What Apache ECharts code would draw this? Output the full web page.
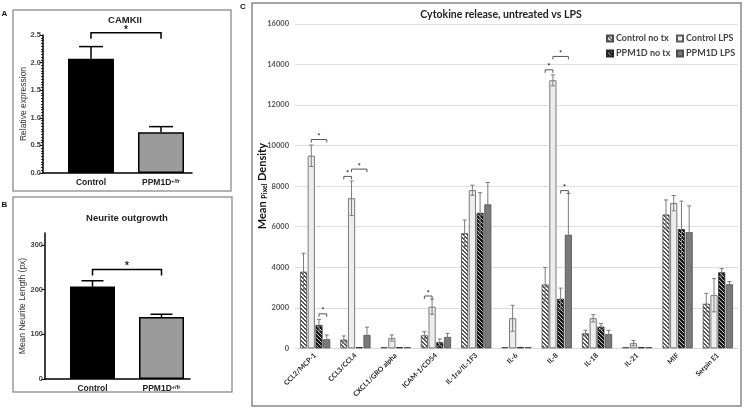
<!DOCTYPE html>
<html><head><meta charset="utf-8">
<script src="https://cdn.jsdelivr.net/npm/echarts@6/dist/echarts.min.js"></script>
<style>html,body{margin:0;padding:0;background:#fff}#c{width:744px;height:408px}</style>
</head><body><div id="c"></div>
<script>
// ---------- Panel A: CAMKII ----------
const camkCats = ['Control', 'PPM1D+/fr'];
const camkMean = [2.07, 0.74];
const camkErr = [0.22, 0.10];
const camkSig = [[0, 1, 2.54]];
// ---------- Panel B: Neurite outgrowth ----------
const neuriteCats = ['Control', 'PPM1D+/fr'];
const neuriteMean = [207, 139];
const neuriteErr = [13, 6];
const neuriteSig = [[0, 1, 245]];
const neuriteTicks = [0, 100, 200, 300];
// ---------- Panel C: Cytokine release ----------
const cytoCats = ['CCL2/MCP-1', 'CCL3/CCL4', 'CXCL1/GRO alpha', 'ICAM-1/CD54', 'IL-1ra/IL-1F3', 'IL-6', 'IL-8', 'IL-18', 'IL-21', 'MIF', 'Serpin E1'];
const ctrlNoTx    = [3780, 430, 60, 640, 5680, 60, 3150, 740, 60, 6600, 2200];
const ctrlNoTxErr = [910, 180, 0, 180, 650, 0, 830, 150, 0, 720, 510];
const ctrlLps     = [9500, 7400, 510, 2050, 7800, 1480, 13220, 1480, 250, 7160, 2620];
const ctrlLpsErr  = [530, 850, 150, 370, 250, 640, 270, 180, 130, 380, 820];
const ppmNoTx     = [1150, 60, 60, 300, 6680, 60, 2440, 1070, 60, 5880, 3750];
const ppmNoTxErr  = [280, 0, 0, 160, 1000, 0, 530, 150, 0, 1380, 180];
const ppmLps      = [450, 660, 60, 560, 7100, 60, 5600, 700, 60, 5730, 3160];
const ppmLpsErr   = [210, 380, 0, 180, 1080, 0, 2040, 190, 0, 1300, 130];
// significance: [category index, from bar, to bar, bracket height]
const cytoSig = [[0, 1, 3, 10300], [0, 2, 3, 1700], [1, 0, 1, 8480], [1, 1, 3, 8840], [3, 0, 1, 2580], [6, 0, 1, 13740], [6, 1, 3, 14400], [6, 2, 3, 7780]];

const FAB = '"Liberation Sans", Arial, sans-serif';
const FC = 'Lato, "Open Sans", sans-serif';

function hatch(bg, fg, dark) {
  const n = 4, cv = document.createElement('canvas');
  cv.width = n; cv.height = n;
  const ctx = cv.getContext('2d');
  ctx.fillStyle = bg; ctx.fillRect(0, 0, n, n);
  ctx.fillStyle = fg;
  for (let y = 0; y < n; y++) for (let x = 0; x < n; x++) {
    if ((((x - y) % n) + n) % n < dark) ctx.fillRect(x, y, 1, 1);
  }
  return cv;
}
const patCtrl = { image: hatch('#ffffff', '#555555', 2), repeat: 'repeat' };
const patPpm = { image: hatch('#c8c8c8', '#1a1a1a', 3), repeat: 'repeat' };

const cytoGroups = [
  { name: 'Control no tx', mean: ctrlNoTx, err: ctrlNoTxErr },
  { name: 'Control LPS', mean: ctrlLps, err: ctrlLpsErr },
  { name: 'PPM1D no tx', mean: ppmNoTx, err: ppmNoTxErr },
  { name: 'PPM1D LPS', mean: ppmLps, err: ppmLpsErr }
];
const cytoStyles = [
  { color: patCtrl, borderColor: '#4d4d4d', borderWidth: 0.8 },
  { color: '#ededed', borderColor: '#5a5a5a', borderWidth: 0.8 },
  { color: patPpm, borderColor: '#262626', borderWidth: 0.8 },
  { color: '#7a7a7a', borderColor: '#4d4d4d', borderWidth: 0.8 }
];
const CAT_GAP = 0.25, BAR_GAP = 0.1, NB = 4;
function barX(api, i, s) {
  const band = api.size([1, 0])[0];
  const w = band * (1 - CAT_GAP) / (NB + (NB - 1) * BAR_GAP);
  const c = api.coord([i, 0])[0];
  return c - band * (1 - CAT_GAP) / 2 + w / 2 + s * w * (1 + BAR_GAP);
}

const cytoErrData = [];
cytoGroups.forEach((g, s) => g.mean.forEach((m, i) => { if (g.err[i] > 0) cytoErrData.push([i, s, m, g.err[i]]); }));

function abLabel(v) {
  const p = v.indexOf('+');
  return p < 0 ? '{b|' + v + '}' : '{b|' + v.slice(0, p) + '}{s|' + v.slice(p) + '}';
}
const abRich = {
  b: { fontSize: 8.5, fontWeight: 'bold', fontFamily: FAB, color: '#222', lineHeight: 10 },
  s: { fontSize: 5.5, fontWeight: 'bold', fontFamily: FAB, color: '#222', verticalAlign: 'top', lineHeight: 10 }
};

function abErrSeries(x, y, data, cap) {
  return {
    type: 'custom', xAxisIndex: x, yAxisIndex: y, z: 5, clip: false,
    data: data,
    renderItem: (p, api) => {
      const i = api.value(0), m = api.value(1), e = api.value(2);
      const b = api.coord([i, m]), t = api.coord([i, m + e]);
      const st = { stroke: '#000', lineWidth: 1.5 };
      return { type: 'group', children: [
        { type: 'line', shape: { x1: b[0], y1: b[1], x2: t[0], y2: t[1] }, style: st },
        { type: 'line', shape: { x1: t[0] - cap / 2, y1: t[1], x2: t[0] + cap / 2, y2: t[1] }, style: st }
      ] };
    }
  };
}
function abSigSeries(x, y, data) {
  return {
    type: 'custom', xAxisIndex: x, yAxisIndex: y, z: 5, clip: false,
    data: data,
    renderItem: (p, api) => {
      const a = api.coord([api.value(0), api.value(2)]), b = api.coord([api.value(1), api.value(2)]);
      const yy = a[1];
      return { type: 'group', children: [
        { type: 'polyline', shape: { points: [[a[0], yy + 6], [a[0], yy], [b[0], yy], [b[0], yy + 6]] }, style: { stroke: '#000', lineWidth: 1.5, fill: null } },
        { type: 'text', style: { text: '*', x: (a[0] + b[0]) / 2, y: yy + 2, align: 'center', textAlign: 'center', verticalAlign: 'bottom', textVerticalAlign: 'bottom', font: 'bold 10px ' + FAB, fill: '#222' } }
      ] };
    }
  };
}

const abAxisY = (gi, max, interval, name, gap, extra) => Object.assign({
  gridIndex: gi, type: 'value', min: 0, max: max, interval: interval,
  name: name, nameLocation: 'middle', nameGap: gap, nameRotate: 90, nameMoveOverlap: false,
  nameTextStyle: { fontSize: 8.5, fontFamily: FAB, color: '#333' },
  axisLine: { show: true, lineStyle: { color: '#000', width: 1.5 } },
  axisTick: { show: true, length: 3.5, lineStyle: { color: '#000', width: 1 } },
  axisLabel: { fontSize: 7.5, fontWeight: 'bold', fontFamily: FAB, color: '#444', margin: 2 },
  splitLine: { show: false }
}, extra || {});

const option = {
  animation: false,
  graphic: [
    { type: 'rect', shape: { x: 13, y: 10, width: 218, height: 181 }, style: { fill: 'none', stroke: '#9a9a9a', lineWidth: 1.5 } },
    { type: 'rect', shape: { x: 13, y: 197, width: 219, height: 195 }, style: { fill: 'none', stroke: '#9a9a9a', lineWidth: 1.5 } },
    { type: 'rect', shape: { x: 252, y: 3, width: 489, height: 403 }, style: { fill: 'none', stroke: '#888', lineWidth: 1.5 } },
    { type: 'text', x: 4.5, y: 14, style: { text: 'A', font: 'bold 8px ' + FAB, fill: '#111', align: 'center', verticalAlign: 'middle', textAlign: 'center', textVerticalAlign: 'middle' } },
    { type: 'text', x: 4.5, y: 205, style: { text: 'B', font: 'bold 8px ' + FAB, fill: '#111', align: 'center', verticalAlign: 'middle', textAlign: 'center', textVerticalAlign: 'middle' } },
    { type: 'text', x: 243, y: 7, style: { text: 'C', font: 'bold 8px ' + FAB, fill: '#111', align: 'center', verticalAlign: 'middle', textAlign: 'center', textVerticalAlign: 'middle' } },
    { type: 'text', x: 125, y: 20, style: { text: 'CAMKII', font: 'bold 9.5px ' + FAB, fill: '#222', align: 'center', verticalAlign: 'middle', textAlign: 'center', textVerticalAlign: 'middle' } },
    { type: 'text', x: 127, y: 218, style: { text: 'Neurite outgrowth', font: 'bold 9.5px ' + FAB, fill: '#222', align: 'center', verticalAlign: 'middle', textAlign: 'center', textVerticalAlign: 'middle' } },
    { type: 'text', x: 501, y: 15, style: { text: 'Cytokine release, untreated vs LPS', font: 'bold 10.5px ' + FC, fill: '#222', align: 'center', verticalAlign: 'middle', textAlign: 'center', textVerticalAlign: 'middle' } }
  ],
  grid: [
    { left: 43, top: 35, width: 149, height: 138 },
    { left: 56, top: 35, width: 140, height: 138 },
    { left: 45, top: 233, width: 145, height: 146 },
    { left: 58, top: 233, width: 138, height: 146 },
    { left: 295, top: 24, right: 6, bottom: 59.7 }
  ],
  xAxis: [
    { gridIndex: 0, type: 'value', min: 0, max: 1, axisLine: { show: true, onZero: false, lineStyle: { color: '#000', width: 1.5 } }, axisTick: { show: false }, axisLabel: { show: false }, splitLine: { show: false } },
    { gridIndex: 1, type: 'category', data: camkCats, axisLine: { show: false }, axisTick: { show: false }, axisLabel: { interval: 0, formatter: abLabel, rich: abRich, margin: 5 } },
    { gridIndex: 2, type: 'value', min: 0, max: 1, axisLine: { show: true, onZero: false, lineStyle: { color: '#000', width: 1.5 } }, axisTick: { show: false }, axisLabel: { show: false }, splitLine: { show: false } },
    { gridIndex: 3, type: 'category', data: neuriteCats, axisLine: { show: false }, axisTick: { show: false }, axisLabel: { interval: 0, formatter: abLabel, rich: abRich, margin: 5 } },
    { gridIndex: 4, type: 'category', data: cytoCats, axisLine: { show: true, lineStyle: { color: '#d9d9d9' } }, axisTick: { show: false },
      axisLabel: { interval: 0, rotate: 45, fontSize: 7, fontWeight: 'bold', fontFamily: FC, color: '#222', margin: 6 } }
  ],
  yAxis: [
    abAxisY(0, 2.5, 0.5, 'Relative expression', 15, {
      minorTick: { show: true, splitNumber: 10, length: 2, lineStyle: { color: '#000', width: 0.8 } },
      axisLabel: { fontSize: 7.5, fontWeight: 'bold', fontFamily: FAB, color: '#444', margin: 2, formatter: v => v.toFixed(1) }
    }),
    { gridIndex: 1, type: 'value', min: 0, max: 2.5, show: false },
    abAxisY(2, 327, 100, 'Mean Neurite Length (px)', 18, {
      axisTick: { show: true, length: 3.5, lineStyle: { color: '#000', width: 1 }, customValues: neuriteTicks },
      axisLabel: { fontSize: 7.5, fontWeight: 'bold', fontFamily: FAB, color: '#444', margin: 2, customValues: neuriteTicks }
    }),
    { gridIndex: 3, type: 'value', min: 0, max: 327, show: false },
    { gridIndex: 4, type: 'value', min: 0, max: 16000, interval: 2000,
      name: '{m|Mean }{p|Pixel}{m| Density}', nameLocation: 'middle', nameGap: 27, nameRotate: 90, nameMoveOverlap: false,
      nameTextStyle: { rich: {
        m: { fontSize: 11, fontWeight: 'bold', fontFamily: FC, color: '#111', verticalAlign: 'bottom' },
        p: { fontSize: 7, fontWeight: 'bold', fontFamily: FC, color: '#111', verticalAlign: 'bottom' } } },
      axisLine: { show: false }, axisTick: { show: false },
      axisLabel: { fontSize: 7.5, fontWeight: 'bold', fontFamily: FC, color: '#555', margin: 6, formatter: v => String(v) },
      splitLine: { lineStyle: { color: '#dedede', width: 1 } } }
  ],
  legend: [
    { left: 601, top: 29, orient: 'vertical', itemGap: 6, itemWidth: 6, itemHeight: 6, icon: 'rect',
      data: ['Control no tx', 'PPM1D no tx'], textStyle: { fontSize: 9, fontWeight: 'bold', fontFamily: FC, color: '#444', padding: [0, 0, 0, -2] } },
    { left: 671, top: 29, orient: 'vertical', itemGap: 6, itemWidth: 6, itemHeight: 6, icon: 'rect',
      data: ['Control LPS', 'PPM1D LPS'], textStyle: { fontSize: 9, fontWeight: 'bold', fontFamily: FC, color: '#444', padding: [0, 0, 0, -2] } }
  ],
  series: [
    { type: 'bar', xAxisIndex: 1, yAxisIndex: 1, barWidth: 46,
      data: camkMean.map((v, i) => ({ value: v, itemStyle: { color: i === 0 ? '#000' : '#9b9b9b', borderColor: '#000', borderWidth: 1.5 } })) },
    abErrSeries(1, 1, camkMean.map((m, i) => [i, m, camkErr[i]]), 24),
    abSigSeries(1, 1, camkSig),
    { type: 'bar', xAxisIndex: 3, yAxisIndex: 3, barWidth: 45,
      data: neuriteMean.map((v, i) => ({ value: v, itemStyle: { color: i === 0 ? '#000' : '#9b9b9b', borderColor: '#000', borderWidth: 1.5 } })) },
    abErrSeries(3, 3, neuriteMean.map((m, i) => [i, m, neuriteErr[i]]), 22),
    abSigSeries(3, 3, neuriteSig),
    ...cytoGroups.map((g, s) => ({
      type: 'bar', name: g.name, xAxisIndex: 4, yAxisIndex: 4, data: g.mean,
      barCategoryGap: (CAT_GAP * 100) + '%', barGap: (BAR_GAP * 100) + '%',
      itemStyle: cytoStyles[s]
    })),
    { type: 'custom', xAxisIndex: 4, yAxisIndex: 4, z: 5, data: cytoErrData,
      renderItem: (p, api) => {
        const i = api.value(0), s = api.value(1), m = api.value(2), e = api.value(3);
        const x = barX(api, i, s);
        const t = api.coord([i, m + e])[1], b = api.coord([i, Math.max(m - e, 0)])[1];
        const st = { stroke: '#7a7a7a', lineWidth: 1 };
        return { type: 'group', children: [
          { type: 'line', shape: { x1: x, y1: t, x2: x, y2: b }, style: st },
          { type: 'line', shape: { x1: x - 2, y1: t, x2: x + 2, y2: t }, style: st },
          { type: 'line', shape: { x1: x - 2, y1: b, x2: x + 2, y2: b }, style: st }
        ] };
      } },
    { type: 'custom', xAxisIndex: 4, yAxisIndex: 4, z: 5, clip: false, data: cytoSig,
      renderItem: (p, api) => {
        const i = api.value(0);
        const xa = barX(api, i, api.value(1)), xb = barX(api, i, api.value(2));
        const y = api.coord([i, api.value(3)])[1];
        return { type: 'group', children: [
          { type: 'polyline', shape: { points: [[xa, y + 3], [xa, y], [xb, y], [xb, y + 3]] }, style: { stroke: '#555', lineWidth: 1, fill: null } },
          { type: 'text', style: { text: '*', x: (xa + xb) / 2, y: y + 1, align: 'center', textAlign: 'center', verticalAlign: 'bottom', textVerticalAlign: 'bottom', font: 'bold 8px ' + FC, fill: '#333' } }
        ] };
      } }
  ]
};
const chart = echarts.init(document.getElementById('c'), null, { renderer: 'canvas' });
chart.setOption(option);
</script>
</body></html>
